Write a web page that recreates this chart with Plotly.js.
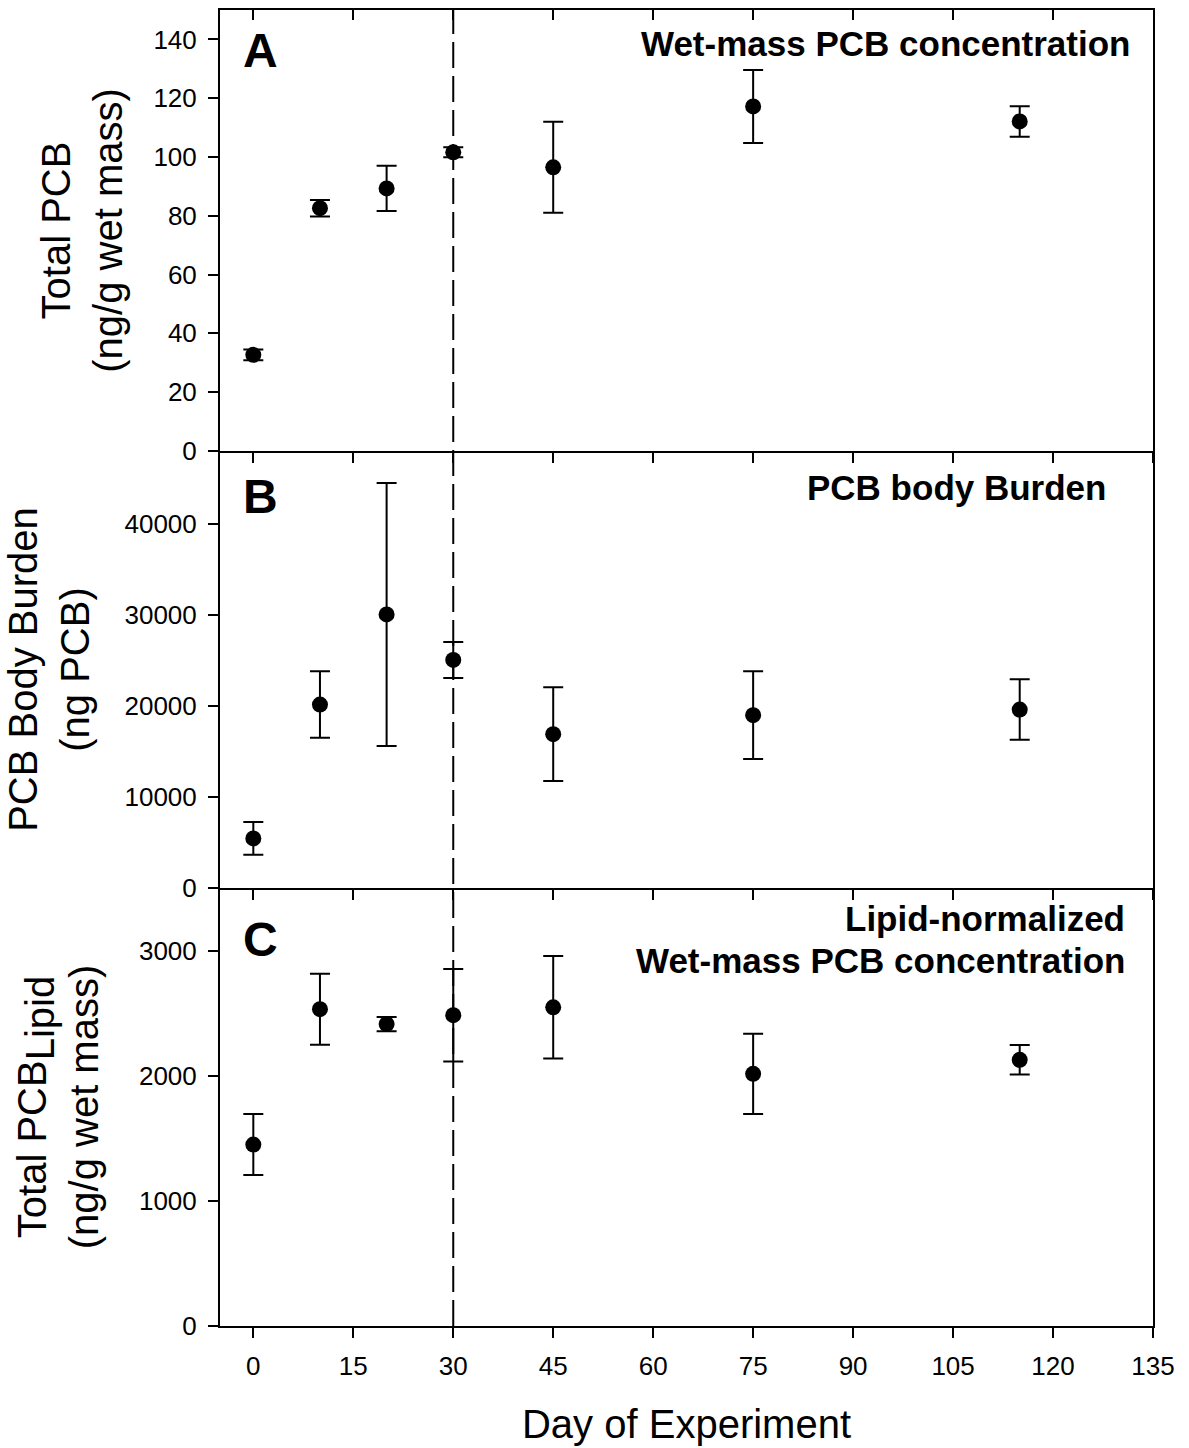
<!DOCTYPE html>
<html>
<head>
<meta charset="utf-8">
<script src="https://cdn.plot.ly/plotly-3.0.1.min.js"></script>
<style>html,body{margin:0;padding:0;background:#fff;}#chart{width:1189px;height:1448px;}</style>
</head>
<body>
<div id="chart"></div>
<script>
// ---- data ----
const days = [0, 10, 20, 30, 45, 75, 115];

const wetMassPCB = [32.7, 82.6, 89.3, 101.6, 96.5, 117.2, 112.1];
const wetMassPCBErr = [1.8, 2.8, 7.7, 1.7, 15.5, 12.4, 5.2];

const bodyBurden = [5450, 20150, 30050, 25050, 16900, 18990, 19600];
const bodyBurdenErr = [1800, 3650, 14440, 1985, 5150, 4830, 3320];

const lipidPCB = [1450, 2532, 2413, 2484, 2547, 2015, 2127];
const lipidPCBErr = [244, 284, 57, 370, 409, 320, 118];

const transferDay = 30;
const xTickVals = [0, 15, 30, 45, 60, 75, 90, 105, 120, 135];

const panelLetters = ['A', 'B', 'C'];
const panelTitles = [
  'Wet-mass PCB concentration',
  'PCB body Burden',
  'Lipid-normalized',
  'Wet-mass PCB concentration'
];
const yTitles = [
  'Total PCB<br>(ng/g wet mass)',
  'PCB Body Burden<br>(ng PCB)',
  'Total PCB<sub><span style="font-size:40px">Lipid</span></sub><br>(ng/g wet mass)'
];
const xTitle = 'Day of Experiment';

// ---- styling ----
const FONT = 'Arial, "Liberation Sans", sans-serif';
const xRange = [-5, 135];

function trace(y, err, xa, ya) {
  return {
    type: 'scatter', mode: 'markers',
    x: days, y: y, xaxis: xa, yaxis: ya,
    marker: {color: '#000', size: 16, symbol: 'circle'},
    error_y: {type: 'data', array: err, visible: true, color: '#000', thickness: 2, width: 10},
    showlegend: false, hoverinfo: 'skip'
  };
}

const data = [
  trace(lipidPCB, lipidPCBErr, 'x', 'y'),
  trace(bodyBurden, bodyBurdenErr, 'x2', 'y2'),
  trace(wetMassPCB, wetMassPCBErr, 'x3', 'y3'),
  {type: 'scatter', mode: 'markers', x: days, y: wetMassPCB, xaxis: 'x4', yaxis: 'y3',
   marker: {opacity: 0, size: 1}, showlegend: false, hoverinfo: 'skip'}
];

const xBase = {
  range: xRange, tickvals: xTickVals, ticks: 'outside', ticklen: 10, tickwidth: 2,
  tickcolor: '#000', showline: true, linecolor: '#000', linewidth: 2, mirror: false,
  showgrid: false, zeroline: false, automargin: false,
  tickfont: {family: FONT, size: 26, color: '#000'}
};
const yBase = {
  ticks: 'outside', ticklen: 10, tickwidth: 2, tickcolor: '#000',
  showline: true, linecolor: '#000', linewidth: 2, mirror: true,
  showgrid: false, zeroline: false, automargin: false, tickformat: 'd',
  tickfont: {family: FONT, size: 26, color: '#000'}, ticklabelstandoff: 6
};

const dC = [0, 0.3328], dB = [0.3328, 0.6649], dA = [0.6649, 1];

function ann(text, x, y, xanchor, size) {
  return {text: text, xref: 'paper', yref: 'paper', x: x, y: y, xanchor: xanchor, yanchor: 'middle',
          showarrow: false, font: {family: FONT, size: size, color: '#000'}};
}

const layout = {
  width: 1189, height: 1448,
  margin: {l: 220, r: 36, t: 10, b: 122},
  paper_bgcolor: '#fff', plot_bgcolor: '#fff',
  font: {family: FONT, color: '#000'},
  showlegend: false,
  xaxis: Object.assign({}, xBase, {anchor: 'y', ticklabelstandoff: 6,
    title: {text: xTitle, font: {family: FONT, size: 40, color: '#000'}, standoff: 30}}),
  xaxis2: Object.assign({}, xBase, {anchor: 'y2', showticklabels: false}),
  xaxis3: Object.assign({}, xBase, {anchor: 'y3', showticklabels: false, mirror: true}),
  xaxis4: {range: xRange, tickvals: xTickVals, overlaying: 'x3', anchor: 'y3', side: 'top',
    ticks: 'inside', ticklen: 10, tickwidth: 2, tickcolor: '#000', showticklabels: false,
    showline: false, showgrid: false, zeroline: false},
  yaxis: Object.assign({}, yBase, {domain: dC, anchor: 'x', range: [0, 3500], tick0: 0, dtick: 1000,
    title: {text: yTitles[2], font: {family: FONT, size: 40, color: '#000'}, standoff: 28}}),
  yaxis2: Object.assign({}, yBase, {domain: dB, anchor: 'x2', range: [0, 48000], tick0: 0, dtick: 10000,
    title: {text: yTitles[1], font: {family: FONT, size: 40, color: '#000'}, standoff: 22}}),
  yaxis3: Object.assign({}, yBase, {domain: dA, anchor: 'x3', range: [0, 150], tick0: 0, dtick: 20,
    title: {text: yTitles[0], font: {family: FONT, size: 40, color: '#000'}, standoff: 18}}),
  shapes: [{
    type: 'line', xref: 'x', yref: 'paper', x0: transferDay, x1: transferDay, y0: 0, y1: 1,
    line: {color: '#000', width: 2, dash: '26px,8px'}
  }],
  annotations: [
    ann('<b>' + panelLetters[0] + '</b>', 0.0225, 0.9692, 'left', 48),
    ann('<b>' + panelLetters[1] + '</b>', 0.0225, 0.6302, 'left', 48),
    ann('<b>' + panelLetters[2] + '</b>', 0.0225, 0.2937, 'left', 48),
    ann('<b>' + panelTitles[0] + '</b>', 0.9775, 0.9742, 'right', 35),
    ann('<b>' + panelTitles[1] + '</b>', 0.9518, 0.6368, 'right', 35),
    ann('<b>' + panelTitles[2] + '</b>', 0.9721, 0.3093, 'right', 35),
    ann('<b>' + panelTitles[3] + '</b>', 0.9721, 0.2781, 'right', 35)
  ]
};

Plotly.newPlot('chart', data, layout, {displayModeBar: false, staticPlot: true});
</script>
</body>
</html>
